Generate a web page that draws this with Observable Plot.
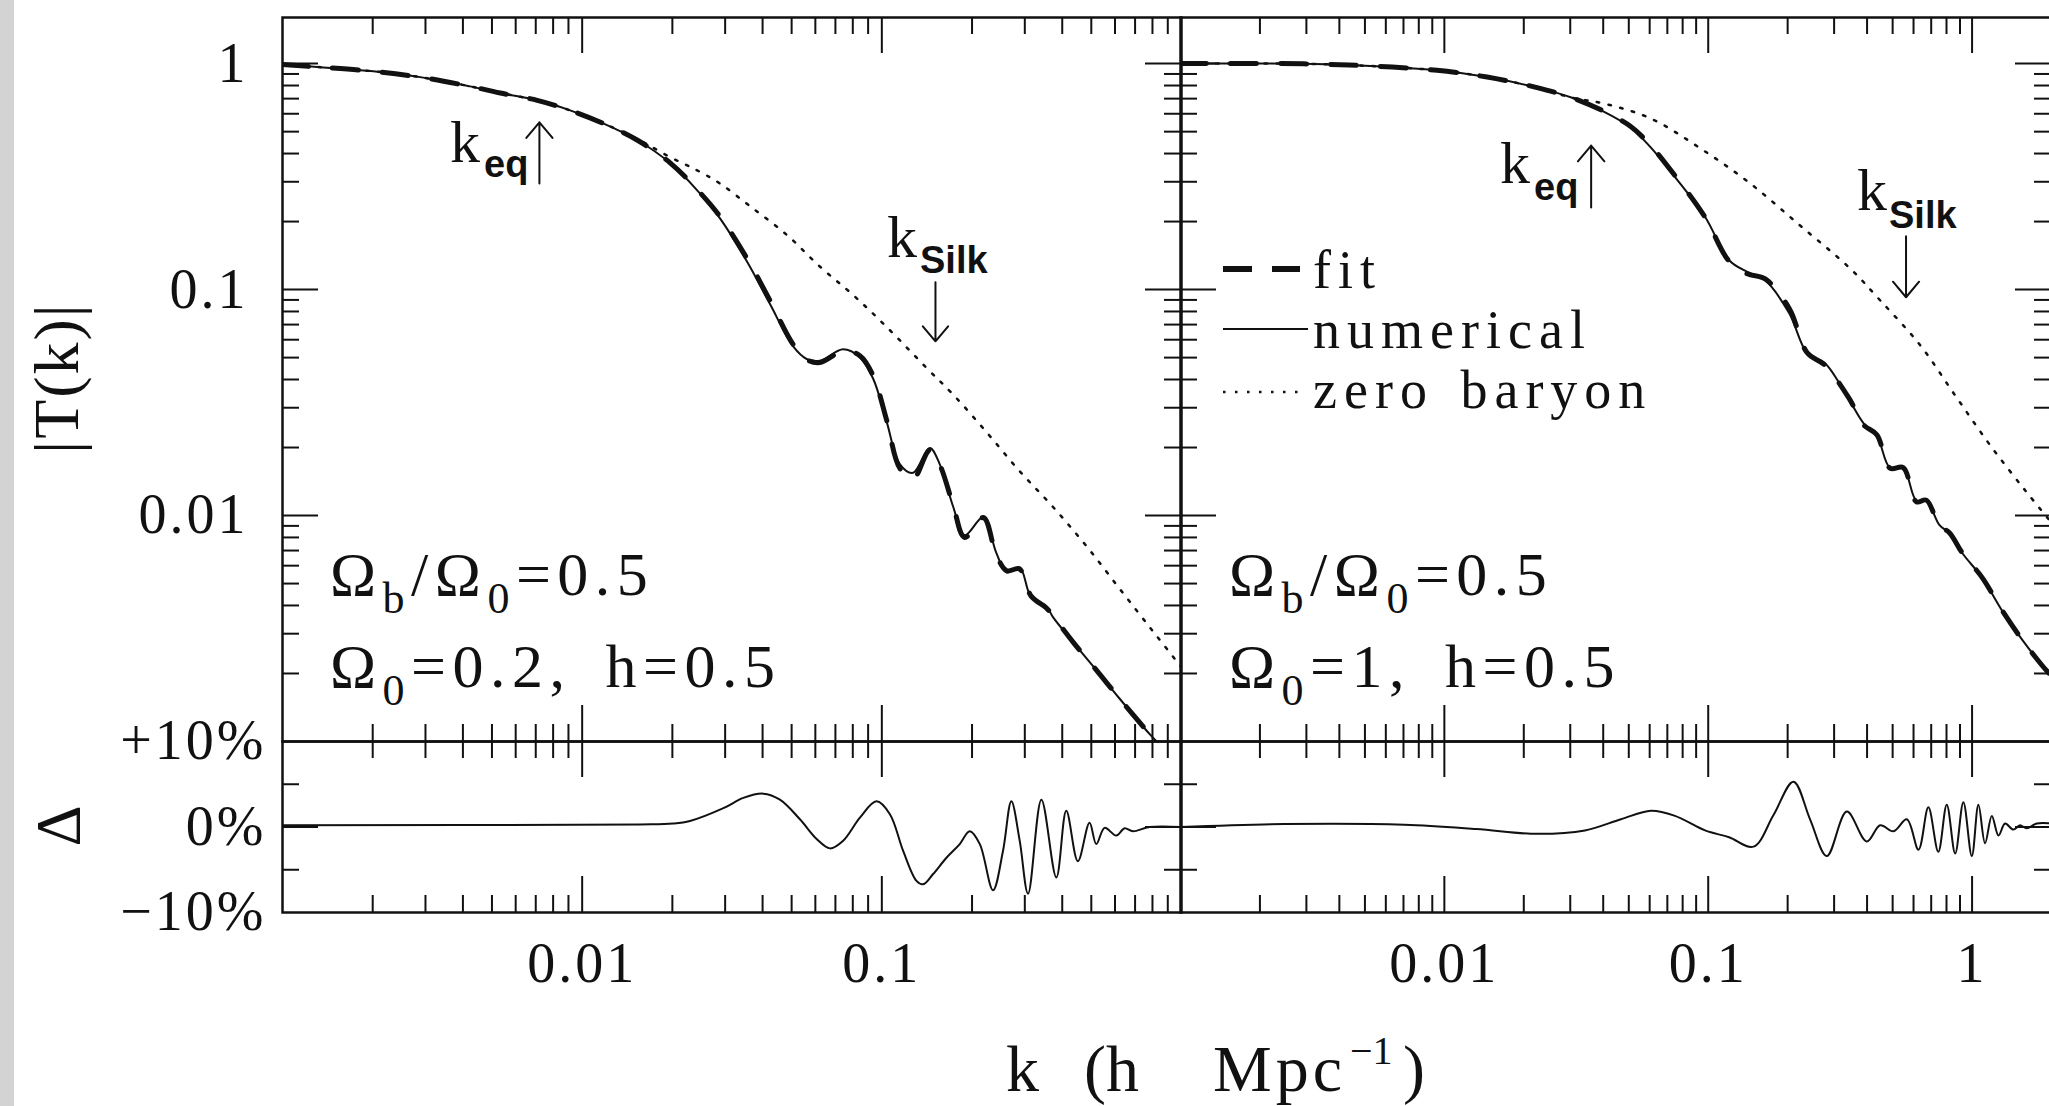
<!DOCTYPE html>
<html><head><meta charset="utf-8">
<script src="https://cdn.jsdelivr.net/npm/d3@7"></script>
<script src="https://cdn.jsdelivr.net/npm/@observablehq/plot@0.6"></script>
<style>
html,body{margin:0;padding:0;background:#fff;overflow:hidden;}
#page{position:relative;width:2049px;height:1106px;overflow:hidden;background:#fff;}
#strip{position:absolute;left:0;top:0;width:14px;height:1106px;background:#d3d3d3;}
#overlay{position:absolute;left:0;top:0;}
#overlay text{font-family:"Liberation Serif",serif;fill:#111;}
#overlay .sub{font-family:"Liberation Sans",sans-serif;font-weight:bold;}
</style></head>
<body><div id="page"><div id="strip"></div></div>
<script>
// ---------------- data ----------------
// Left panel: Omega_b/Omega_0 = 0.5, Omega_0 = 0.2, h = 0.5
const leftK = [0.001, 0.00131, 0.00197, 0.00295, 0.00423, 0.00545, 0.00708, 0.00912, 0.01175, 0.0153, 0.0197, 0.0242, 0.0288, 0.0354, 0.0423, 0.0506, 0.0561, 0.0621, 0.0743, 0.0845, 0.0935, 0.1037, 0.1148, 0.1271, 0.1445, 0.156, 0.173, 0.189, 0.218, 0.241, 0.261, 0.288, 0.315, 0.354, 0.372, 0.434, 0.520, 0.621, 0.782, 0.826];
const leftNumerical = [0.99, 0.966, 0.927, 0.867, 0.793, 0.737, 0.688, 0.621, 0.544, 0.458, 0.362, 0.275, 0.207, 0.1337, 0.0865, 0.056, 0.0493, 0.0484, 0.0544, 0.0501, 0.0404, 0.0261, 0.0169, 0.01545, 0.0199, 0.0169, 0.01094, 0.00818, 0.00982, 0.00684, 0.0056, 0.00591, 0.00435, 0.00397, 0.00356, 0.00276, 0.00207, 0.00155, 0.00108, 0.001];
const leftFit = [0.99, 0.966, 0.927, 0.867, 0.793, 0.737, 0.688, 0.621, 0.544, 0.458, 0.363, 0.277, 0.211, 0.138, 0.0898, 0.0572, 0.049, 0.0475, 0.0535, 0.051, 0.0416, 0.0265, 0.0162, 0.0145, 0.0195, 0.0168, 0.0111, 0.008, 0.0098, 0.0067, 0.0057, 0.0058, 0.0044, 0.0039, 0.0036, 0.00276, 0.00207, 0.00155, 0.00108, 0.001];
const leftZeroK = [0.001, 0.00131, 0.00197, 0.00295, 0.00423, 0.00545, 0.00708, 0.00912, 0.01175, 0.0153, 0.0197, 0.0242, 0.0288, 0.0363, 0.0481, 0.0621, 0.0802, 0.1037, 0.141, 0.173, 0.2235, 0.288, 0.372, 0.481, 0.621, 0.802, 1.0];
const leftZeroT = [0.99, 0.966, 0.927, 0.867, 0.793, 0.737, 0.688, 0.621, 0.544, 0.463, 0.385, 0.337, 0.295, 0.234, 0.175, 0.1265, 0.0946, 0.0684, 0.045, 0.0343, 0.0234, 0.01574, 0.01094, 0.00734, 0.00475, 0.00308, 0.00213];
const leftDeltaK = [0.001, 0.0156, 0.0201, 0.0229, 0.0296, 0.0345, 0.0402, 0.0457, 0.0533, 0.0606, 0.0671, 0.0743, 0.0845, 0.096, 0.1064, 0.1178, 0.1305, 0.1374, 0.1483, 0.1643, 0.182, 0.1965, 0.2123, 0.235, 0.2537, 0.2705, 0.2884, 0.3076, 0.3408, 0.3822, 0.4126, 0.451, 0.4933, 0.5195, 0.554, 0.6058, 0.6457, 0.6887, 0.7822, 1.0];
const leftDelta = [0.2, 0.3, 0.4, 0.7, 2.2, 3.4, 3.9, 3.2, 0.9, -1.4, -2.5, -1.6, 1.1, 3.0, 1.5, -2.8, -6.3, -6.7, -5.5, -3.6, -2.0, -0.5, -2.0, -7.4, -2.8, 3.0, -1.6, -7.8, 3.2, -5.9, 1.9, -4.0, 0.5, -2.0, -0.1, -1.0, -0.15, -0.5, 0, 0];
const leftArrowK = [0.0072, 0.151];
const leftArrowFrom = [0.295, 0.1077];
const leftArrowTo = [0.55, 0.059];

// Right panel: Omega_b/Omega_0 = 0.5, Omega_0 = 1, h = 0.5
const rightK = [0.001, 0.00292, 0.00525, 0.00938, 0.01452, 0.02245, 0.0305, 0.04, 0.0507, 0.0603, 0.075, 0.0975, 0.12, 0.1406, 0.1644, 0.2028, 0.2372, 0.2773, 0.342, 0.388, 0.4355, 0.4887, 0.5483, 0.6152, 0.671, 0.7528, 0.8205, 0.9205, 1.094, 1.30, 1.545, 1.874, 2.0];
const rightNumerical = [1.0, 0.998, 0.976, 0.934, 0.872, 0.783, 0.706, 0.615, 0.523, 0.428, 0.314, 0.209, 0.1348, 0.1197, 0.11, 0.0785, 0.0523, 0.0472, 0.0325, 0.0256, 0.0226, 0.01625, 0.01625, 0.01164, 0.01164, 0.00907, 0.00835, 0.00679, 0.00529, 0.00379, 0.00283, 0.00212, 0.00195];
const rightFit = [1.0, 0.998, 0.976, 0.934, 0.872, 0.783, 0.706, 0.617, 0.528, 0.436, 0.318, 0.208, 0.1335, 0.1175, 0.1115, 0.0825, 0.0525, 0.0462, 0.033, 0.0252, 0.0228, 0.0162, 0.0163, 0.0115, 0.0117, 0.009, 0.0084, 0.0068, 0.0053, 0.0038, 0.00283, 0.00212, 0.00195];
const rightZeroK = [0.001, 0.00292, 0.00525, 0.00938, 0.01452, 0.02245, 0.0305, 0.04, 0.0603, 0.0933, 0.1442, 0.223, 0.345, 0.448, 0.636, 0.863, 1.17, 1.588, 2.0];
const rightZeroT = [1.0, 0.998, 0.976, 0.934, 0.872, 0.783, 0.706, 0.667, 0.573, 0.422, 0.295, 0.192, 0.124, 0.0897, 0.0567, 0.034, 0.0205, 0.01294, 0.0093];
const rightDeltaK = [0.001, 0.00247, 0.00705, 0.0132, 0.0224, 0.0341, 0.0467, 0.0607, 0.0748, 0.0973, 0.12, 0.1485, 0.1768, 0.2104, 0.2432, 0.2815, 0.3352, 0.399, 0.4483, 0.5036, 0.5659, 0.6266, 0.6829, 0.7447, 0.8017, 0.863, 0.9268, 0.9977, 1.057, 1.12, 1.188, 1.259, 1.334, 1.433, 1.519, 1.611, 1.758, 2.0];
const rightDelta = [0, 0.35, 0.27, -0.23, -0.8, -0.4, 0.9, 1.9, 1.3, -0.4, -1.2, -2.3, 1.4, 5.3, 0.9, -3.4, 1.8, -1.7, 0.2, -0.5, 0.9, -2.65, 2.3, -2.9, 2.6, -3.1, 2.9, -3.4, 2.6, -1.9, 1.3, -1.0, 0.4, -0.3, 0.2, -0.15, 0.4, 0.4];
const rightArrowK = [0.036, 0.562];
const rightArrowFrom = [0.231, 0.172];
const rightArrowTo = [0.434, 0.0925];

// axes / ticks
const kDomainLeft = [0.001, 1];
const kDomainRight = [0.001, 2];
const tDomain = [0.001, 1.6];
const deltaDomain = [-10, 10];
const tTickValues = [1, 0.1, 0.01];
const tTickLabels = ["1", "0.1", "0.01"];
const tMinor = [0.002,0.003,0.004,0.005,0.006,0.007,0.008,0.009,0.02,0.03,0.04,0.05,0.06,0.07,0.08,0.09,0.2,0.3,0.4,0.5,0.6,0.7,0.8,0.9];
const kMajorLeft = [0.01, 0.1];
const kMajorRight = [0.01, 0.1, 1];
const kMinor = [0.002,0.003,0.004,0.005,0.006,0.007,0.008,0.009,0.02,0.03,0.04,0.05,0.06,0.07,0.08,0.09,0.2,0.3,0.4,0.5,0.6,0.7,0.8,0.9];
const kTickLabelsLeft = ["0.01", "0.1"];
const kTickLabelsRight = ["0.01", "0.1", "1"];
const deltaTickValues = [10, 0, -10];
const deltaTickLabels = ["+10%", "0%", "\u221210%"];
const deltaMajor = [0];
const deltaMinor = [-5, 5];

// ---------------- layout ----------------
const INK = "#111";
const TOP = 17, MID = 741, BOT = 912;
const LX0 = 282, LX1 = 1181, RX0 = 1180, RX1 = 2051;
const topH = MID - TOP, botH = BOT - MID;
const MAJ = 36, MIN = 17;

const zip2 = (ks, vs, name) => ks.map((k, i) => ({k, [name]: vs[i]}));

function styleObj() {
  return {background: "transparent", overflow: "visible", maxWidth: "none",
          fontFamily: "'Liberation Serif', serif", fontSize: "56px", letterSpacing: "3px", color: INK};
}
function xTicks(major, minor, innerH, sides) {
  const out = [];
  for (const side of sides) {
    const o = len => side === "top" ? {insetBottom: innerH - len} : {insetTop: innerH - len};
    out.push(Plot.ruleX(minor, {x: d => d, ...o(MIN), stroke: INK, strokeWidth: 2}));
    out.push(Plot.ruleX(major, {x: d => d, ...o(MAJ), stroke: INK, strokeWidth: 2}));
  }
  return out;
}
function yTicks(major, minor, innerW, sides) {
  const out = [];
  for (const side of sides) {
    const o = len => side === "left" ? {insetRight: innerW - len} : {insetLeft: innerW - len};
    out.push(Plot.ruleY(minor, {y: d => d, ...o(MIN), stroke: INK, strokeWidth: 2}));
    out.push(Plot.ruleY(major, {y: d => d, ...o(MAJ), stroke: INK, strokeWidth: 2}));
  }
  return out;
}

function topPanel(cfg) {
  const innerW = cfg.x1 - cfg.x0;
  const mL = cfg.showY ? cfg.x0 : 5;
  const svg = Plot.plot({
    width: mL + innerW + 9, height: TOP + topH + 19,
    marginLeft: mL, marginRight: 9, marginTop: TOP, marginBottom: 19,
    x: {type: "log", domain: cfg.kDomain, axis: null, label: null},
    y: {type: "log", domain: tDomain, axis: null, label: null},
    style: styleObj(),
    marks: [
      ...xTicks(cfg.kMajor, kMinor, topH, ["top", "bottom"]),
      ...yTicks(tTickValues, tMinor, innerW, ["left", "right"]),
      Plot.frame({stroke: INK, strokeWidth: 2.5}),
      cfg.showY ? Plot.axisY(tTickValues, {anchor: "left", tickSize: 0, tickPadding: 34, label: null,
        tickFormat: d => tTickLabels[tTickValues.indexOf(d)]}) : null,
      Plot.line(zip2(cfg.zeroK, cfg.zeroT, "T"), {x: "k", y: "T", curve: "catmull-rom", stroke: INK,
        strokeWidth: 2.5, strokeDasharray: "2.5,9.5", clip: true}),
      Plot.line(zip2(cfg.k, cfg.num, "T"), {x: "k", y: "T", curve: "catmull-rom", stroke: INK, strokeWidth: 2, clip: true}),
      Plot.line(zip2(cfg.k, cfg.fit, "T"), {x: "k", y: "T", curve: "catmull-rom", stroke: INK, strokeWidth: 5,
        strokeDasharray: "26,24", clip: true}),
      Plot.arrow(cfg.arrowK.map((k, i) => ({k, a: cfg.arrowFrom[i], b: cfg.arrowTo[i]})),
        {x1: "k", y1: "a", x2: "k", y2: "b", stroke: INK, strokeWidth: 2, headLength: 22, headAngle: 80})
    ]
  });
  svg.style.position = "absolute";
  svg.style.left = (cfg.x0 - mL) + "px";
  svg.style.top = "0px";
  return svg;
}

function bottomPanel(cfg) {
  const innerW = cfg.x1 - cfg.x0;
  const mL = cfg.showY ? cfg.x0 : 5;
  const mT = 11;
  const svg = Plot.plot({
    width: mL + innerW + 9, height: mT + botH + 100,
    marginLeft: mL, marginRight: 9, marginTop: mT, marginBottom: 100,
    x: {type: "log", domain: cfg.kDomain, axis: null, label: null},
    y: {domain: deltaDomain, axis: null, label: null},
    style: styleObj(),
    marks: [
      ...xTicks(cfg.kMajor, kMinor, botH, ["top", "bottom"]),
      ...yTicks(deltaMajor, deltaMinor, innerW, ["left", "right"]),
      Plot.frame({stroke: INK, strokeWidth: 2.5}),
      cfg.showY ? Plot.axisY(deltaTickValues, {anchor: "left", tickSize: 0, tickPadding: 16, label: null,
        tickFormat: d => deltaTickLabels[deltaTickValues.indexOf(d)]}) : null,
      Plot.axisX(cfg.kMajor, {anchor: "bottom", tickSize: 0, tickPadding: 30, label: null,
        tickFormat: d => cfg.kLabels[cfg.kMajor.indexOf(d)]}),
      Plot.line(zip2(cfg.dK, cfg.d, "D"), {x: "k", y: "D", curve: "catmull-rom", stroke: INK, strokeWidth: 2, clip: true})
    ]
  });
  svg.style.position = "absolute";
  svg.style.left = (cfg.x0 - mL) + "px";
  svg.style.top = (MID - mT) + "px";
  return svg;
}

const page = document.getElementById("page");
page.appendChild(topPanel({x0: LX0, x1: LX1, showY: true, kDomain: kDomainLeft, kMajor: kMajorLeft,
  k: leftK, num: leftNumerical, fit: leftFit, zeroK: leftZeroK, zeroT: leftZeroT,
  arrowK: leftArrowK, arrowFrom: leftArrowFrom, arrowTo: leftArrowTo}));
page.appendChild(topPanel({x0: RX0, x1: RX1, showY: false, kDomain: kDomainRight, kMajor: kMajorRight,
  k: rightK, num: rightNumerical, fit: rightFit, zeroK: rightZeroK, zeroT: rightZeroT,
  arrowK: rightArrowK, arrowFrom: rightArrowFrom, arrowTo: rightArrowTo}));
page.appendChild(bottomPanel({x0: LX0, x1: LX1, showY: true, kDomain: kDomainLeft, kMajor: kMajorLeft,
  kLabels: kTickLabelsLeft, dK: leftDeltaK, d: leftDelta}));
page.appendChild(bottomPanel({x0: RX0, x1: RX1, showY: false, kDomain: kDomainRight, kMajor: kMajorRight,
  kLabels: kTickLabelsRight, dK: rightDeltaK, d: rightDelta}));

// ---------------- text overlay ----------------
const ov = `
<svg id="overlay" width="2049" height="1106" xmlns="http://www.w3.org/2000/svg">
  <text x="78" y="378" transform="rotate(-90 78 378)" text-anchor="middle" font-size="64" letter-spacing="2">|T(k)|</text>
  <text x="80" y="826" transform="rotate(-90 80 826)" text-anchor="middle" font-size="64">Δ</text>
  <text y="1091" font-size="66"><tspan x="1006">k</tspan><tspan x="1084">(h</tspan><tspan x="1213" letter-spacing="4">Mpc</tspan><tspan x="1350" font-size="40" dy="-27">−1</tspan><tspan x="1403" dy="27">)</tspan></text>

  <text x="450" y="162" font-size="60">k<tspan class="sub" x="484" dy="15" font-size="38">eq</tspan></text>
  <text x="887" y="257" font-size="60">k<tspan class="sub" x="920" dy="16" font-size="38">Silk</tspan></text>
  <text x="1500" y="183" font-size="60">k<tspan class="sub" x="1534" dy="17" font-size="38">eq</tspan></text>
  <text x="1857" y="210" font-size="60">k<tspan class="sub" x="1889" dy="18" font-size="38">Silk</tspan></text>

  <text x="330" y="595" font-size="62" letter-spacing="6.5">Ω<tspan font-size="44" dy="18">b</tspan><tspan dy="-18">/Ω</tspan><tspan font-size="44" dy="18">0</tspan><tspan dy="-18">=0.5</tspan></text>
  <text x="330" y="687" font-size="62" letter-spacing="6.5" word-spacing="12">Ω<tspan font-size="44" dy="18">0</tspan><tspan dy="-18">=0.2, h=0.5</tspan></text>
  <text x="1229" y="595" font-size="62" letter-spacing="6.5">Ω<tspan font-size="44" dy="18">b</tspan><tspan dy="-18">/Ω</tspan><tspan font-size="44" dy="18">0</tspan><tspan dy="-18">=0.5</tspan></text>
  <text x="1229" y="687" font-size="62" letter-spacing="6.5" word-spacing="12">Ω<tspan font-size="44" dy="18">0</tspan><tspan dy="-18">=1, h=0.5</tspan></text>

  <line x1="1223" x2="1300" y1="269" y2="269" stroke="#111" stroke-width="6" stroke-dasharray="29,20"/>
  <line x1="1223" x2="1308" y1="329" y2="329" stroke="#111" stroke-width="2"/>
  <line x1="1223" x2="1307" y1="392" y2="392" stroke="#111" stroke-width="2.5" stroke-dasharray="2.5,9.5"/>
  <text x="1313" y="288" font-size="54" letter-spacing="7">fit</text>
  <text x="1313" y="348" font-size="54" letter-spacing="7">numerical</text>
  <text x="1313" y="408" font-size="54" letter-spacing="7" word-spacing="6">zero baryon</text>
</svg>`;
page.insertAdjacentHTML("beforeend", ov);
</script>
</body></html>
